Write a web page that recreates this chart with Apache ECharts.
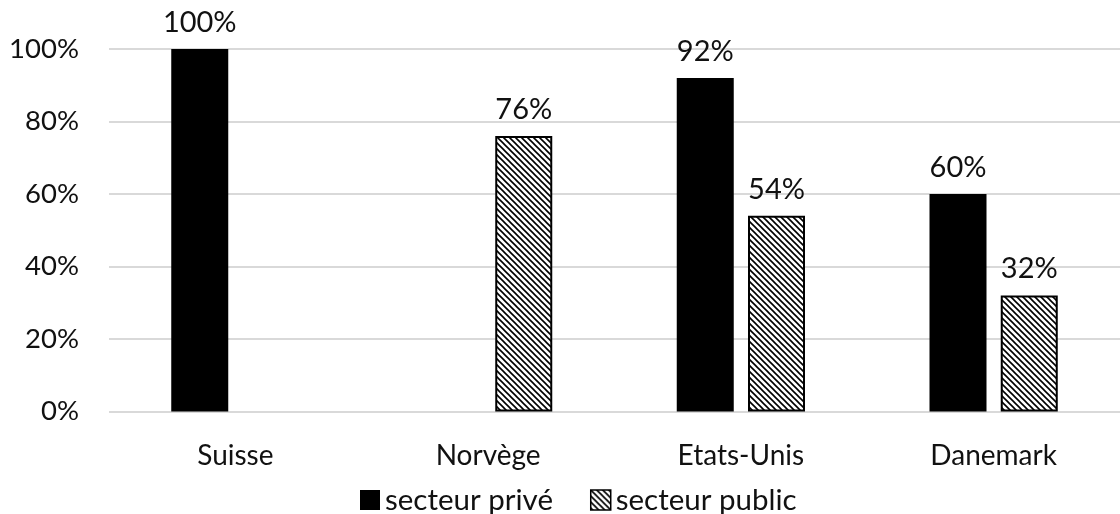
<!DOCTYPE html>
<html><head><meta charset="utf-8">
<script src="https://cdn.jsdelivr.net/npm/echarts@6/dist/echarts.min.js"></script>
<style>html,body{margin:0;padding:0;background:#fff}#c{width:1120px;height:514px}</style>
</head><body><div id="c"></div>
<script>
const categories = ['Suisse', 'Norvège', 'Etats-Unis', 'Danemark'];
const prive = [100, null, 92, 60];
const publicS = [null, 76, 54, 32];
const yTicks = [0, 20, 40, 60, 80, 100];

function hatch() {
  const s = 6;
  const c = document.createElement('canvas');
  c.width = s; c.height = s;
  const g = c.getContext('2d');
  g.fillStyle = '#fff'; g.fillRect(0, 0, s, s);
  g.strokeStyle = '#000'; g.lineWidth = 1.6;
  g.beginPath();
  g.moveTo(-1, -1); g.lineTo(s + 1, s + 1);
  g.moveTo(-1, s - 1); g.lineTo(1, s + 1);
  g.moveTo(s - 1, -1); g.lineTo(s + 1, 1);
  g.stroke();
  return c;
}
const pat = { image: hatch(), repeat: 'repeat' };
const FONT = 'Lato';
const TXT = '#111';
const chart = echarts.init(document.getElementById('c'), null, { renderer: 'canvas' });
chart.setOption({
  animation: false,
  textStyle: { fontFamily: FONT },
  grid: { left: 109, right: -3, top: 49, bottom: 102.5, containLabel: false },
  legend: {
    top: 485, left: 360, itemWidth: 20, itemHeight: 20, itemGap: 37, padding: 0,
    textStyle: { fontFamily: FONT, fontSize: 29.5, color: TXT },
    data: [
      { name: 'secteur privé', icon: 'rect' },
      { name: 'secteur public', icon: 'rect', itemStyle: { color: pat, borderColor: '#000', borderWidth: 1.5 } }
    ]
  },
  xAxis: {
    type: 'category', data: categories,
    axisLine: { show: false }, axisTick: { show: false },
    axisLabel: { fontFamily: FONT, fontSize: 28, color: TXT, margin: 30 }
  },
  yAxis: {
    type: 'value', min: 0, max: 100, interval: 20,
    axisLine: { show: false }, axisTick: { show: false },
    splitLine: { lineStyle: { color: '#d9d9d9', width: 2 } },
    axisLabel: { fontFamily: FONT, fontSize: 27.5, color: TXT, margin: 30,
      formatter: v => yTicks.includes(v) ? v + '%' : '' }
  },
  series: [
    { name: 'secteur privé', type: 'bar', data: prive, barWidth: 57, barGap: '25%',
      itemStyle: { color: '#000' },
      label: { show: true, position: 'top', distance: 12, fontFamily: FONT, fontSize: 29, color: TXT, formatter: '{c}%' } },
    { name: 'secteur public', type: 'bar', data: publicS, barWidth: 57, barGap: '25%',
      itemStyle: { color: pat, borderColor: '#000', borderWidth: 2 },
      label: { show: true, position: 'top', distance: 12, fontFamily: FONT, fontSize: 29, color: TXT, formatter: '{c}%' } }
  ]
});
</script></body></html>
